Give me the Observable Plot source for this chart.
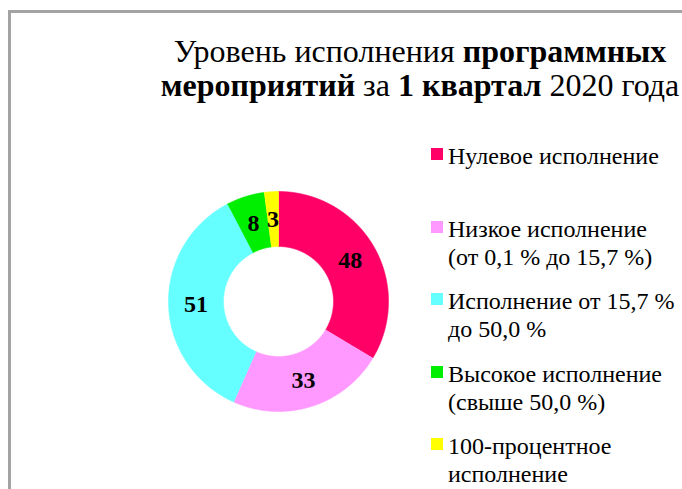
<!DOCTYPE html>
<html><head><meta charset="utf-8">
<script src="https://cdn.jsdelivr.net/npm/d3@7"></script>
<script src="https://cdn.jsdelivr.net/npm/@observablehq/plot@0.6"></script>
<style>
body{margin:0;background:#fff;font-family:'Liberation Serif','Times New Roman',serif;}
#wrap{position:relative;width:682px;height:489px;overflow:hidden;color:#000;}
#frame{position:absolute;left:8px;top:10px;right:-10px;bottom:-10px;border-left:3px solid #a3a3a3;border-top:3px solid #a3a3a3;}
#chart{position:absolute;left:0;top:0;}
#title{position:absolute;left:120px;width:600px;top:34px;text-align:center;font-size:32px;line-height:34px;white-space:nowrap;}
.leg{position:absolute;left:431px;font-size:24px;line-height:28px;white-space:nowrap;}
.leg .txt{position:absolute;left:17px;top:0;}
.leg .sw{position:absolute;left:0;top:6px;width:12px;height:12px;}
</style></head>
<body>
<div id="wrap"><div id="frame"></div><div id="chart"></div><div id="title"></div></div>
<script>
const categories = ["Нулевое исполнение","Низкое исполнение","Исполнение от 15,7 % до 50,0 %","Высокое исполнение","100-процентное исполнение"];
const values = [48, 33, 51, 8, 3];
const colors = ["#FF0066", "#FF99FF", "#66FFFF", "#00EE00", "#FFFF00"];
const legendLines = [
  ["Нулевое исполнение"],
  ["Низкое исполнение", "(от 0,1 % до 15,7 %)"],
  ["Исполнение от 15,7 %", "до 50,0 %"],
  ["Высокое исполнение", "(свыше 50,0 %)"],
  ["100-процентное", "исполнение"]
];
const titleLines = [
  [["Уровень исполнения ", false], ["программных", true]],
  [["мероприятий", true], [" за ", false], ["1 квартал", true], [" 2020 года", false]]
];
const FONT = "'Liberation Serif', 'Times New Roman', serif";

// title
const titleEl = document.getElementById("title");
titleLines.forEach(line => {
  const div = document.createElement("div");
  line.forEach(([t, b]) => {
    const s = document.createElement("span");
    s.textContent = t;
    if (b) s.style.fontWeight = "bold";
    div.appendChild(s);
  });
  titleEl.appendChild(div);
});

// donut geometry from pie layout
const inner = 0.5;
const arcs = d3.pie().sort(null).value(d => d)(values);
const pts = [];
const labels = [];
arcs.forEach((a, i) => {
  const cat = categories[i];
  const n = Math.max(2, Math.ceil((a.endAngle - a.startAngle) / 0.005));
  for (let k = 0; k <= n; k++) {
    const t = a.startAngle + (a.endAngle - a.startAngle) * k / n;
    pts.push({cat, x: Math.sin(t), y: Math.cos(t)});
  }
  for (let k = n; k >= 0; k--) {
    const t = a.startAngle + (a.endAngle - a.startAngle) * k / n;
    pts.push({cat, x: inner * Math.sin(t), y: inner * Math.cos(t)});
  }
  const m = (a.startAngle + a.endAngle) / 2;
  const r = (1 + inner) / 2;
  labels.push({v: String(values[i]), x: r * Math.sin(m), y: r * Math.cos(m)});
});

const chart = Plot.plot({
  width: 682, height: 489,
  marginLeft: 168, marginRight: 294, marginTop: 191, marginBottom: 78,
  x: {domain: [-1, 1], axis: null},
  y: {domain: [-1, 1], axis: null},
  color: {domain: categories, range: colors},
  style: {background: "transparent", overflow: "visible"},
  marks: [
    Plot.line(pts, {x: "x", y: "y", z: "cat", fill: "cat", stroke: "cat", strokeWidth: 0.6, curve: "linear"}),
    Plot.text(labels, {x: "x", y: "y", text: "v", fontSize: 24, fontWeight: "bold", fontFamily: FONT, fill: "black"})
  ]
});
document.getElementById("chart").appendChild(chart);

// legend
const wrap = document.getElementById("wrap");
legendLines.forEach((lines, i) => {
  const item = document.createElement("div");
  item.className = "leg";
  item.style.top = (142 + i * 72.5) + "px";
  const sw = document.createElement("div");
  sw.className = "sw";
  sw.style.background = colors[i];
  const txt = document.createElement("div");
  txt.className = "txt";
  txt.innerHTML = lines.map(l => l.replace(/&/g, "&amp;").replace(/</g, "&lt;")).join("<br>");
  item.appendChild(sw);
  item.appendChild(txt);
  wrap.appendChild(item);
});
</script>
</body></html>
